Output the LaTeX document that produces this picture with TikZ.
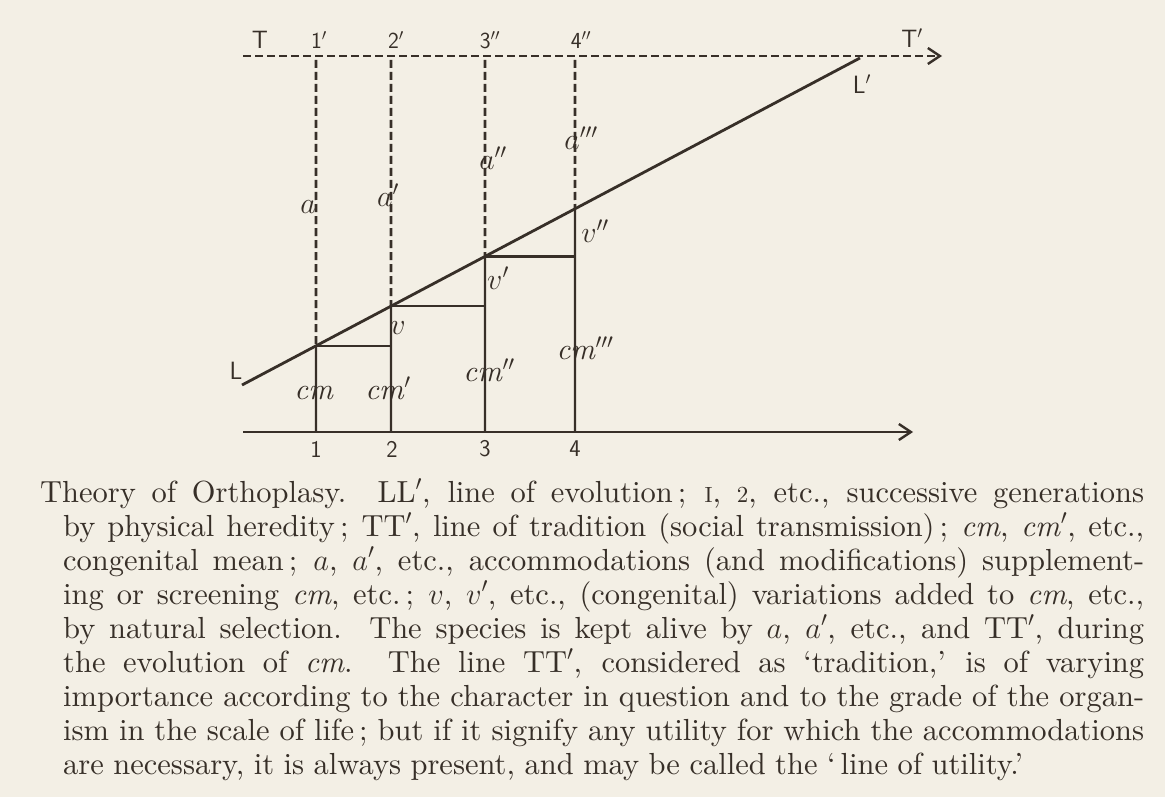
\RequirePackage{fix-cm}
\documentclass[tikz,border=0pt]{standalone}
\usepackage{fontspec}
\setmainfont{lmroman10}[Extension=.otf, UprightFont=*-regular, ItalicFont=*-italic, BoldFont=*-bold, BoldItalicFont=*-bolditalic]
\usetikzlibrary{arrows.meta}
\definecolor{paper}{RGB}{243,239,229}
\definecolor{ink}{RGB}{55,47,40}
\tikzset{
  dashln/.style={draw=ink, line width=2.6pt, dash pattern=on 8pt off 4pt},
  solidln/.style={draw=ink, line width=2.4pt},
  sflab/.style={text=ink, font=\sffamily\fontsize{25}{25}\selectfont, inner sep=0pt},
  toplab/.style={text=ink, font=\sffamily\fontsize{23}{23}\selectfont, inner sep=0pt},
  numlab/.style={text=ink, font=\sffamily\fontsize{24}{24}\selectfont, inner sep=0pt},
  itlab/.style={text=ink, font=\fontsize{30}{30}\selectfont, inner sep=0pt},
  capline/.style={anchor=base west, inner sep=0pt, text=ink, font=\fontsize{30.5}{34}\selectfont},
  barb/.style={-{Straight Barb[length=12pt,width=16pt,line width=2.4pt]}},
}
\begin{document}
\begin{tikzpicture}[x=1pt,y=-1pt]
\fill[paper] (0,0) rectangle (1165,797);
\useasboundingbox (0,0) rectangle (1165,797);
% key coordinates
\coordinate (tL) at (243,56);
\coordinate (tR) at (942,56);
\coordinate (bL) at (243,432);
\coordinate (bR) at (913,432);
\coordinate (Ls) at (242,385);
\coordinate (Le) at (860,58);
\foreach \i/\x in {1/316,2/391,3/485,4/575}{
  \coordinate (t\i) at (\x,60);
  \coordinate (b\i) at (\x,432);
}
\coordinate (p1) at (intersection of Ls--Le and t1--b1);
\coordinate (p2) at (intersection of Ls--Le and t2--b2);
\coordinate (p3) at (intersection of Ls--Le and t3--b3);
\coordinate (p4) at (intersection of Ls--Le and t4--b4);
% line of tradition
\draw[dashln, barb] (tL) -- (tR);
% base axis
\draw[solidln, line width=2.2pt, barb] (bL) -- (bR);
% verticals
\foreach \i in {1,2,3,4}{
  \draw[dashln] (t\i) -- (p\i);
  \draw[solidln] (p\i) -- (b\i);
}
% steps
\draw[solidln] (p1) -- (p1 -| b2);
\draw[solidln] (p2) -- (p2 -| b3);
\draw[solidln] (p3) -- (p3 -| b4);
% line of evolution
\draw[solidln, line width=2.8pt] (Ls) -- (Le);
% labels
\node[sflab] (lT) at (260,40) {T};
\node[sflab] (lTp) at (912,38) {T$'$};
\node[sflab] (lL) at (236,371) {L};
\node[sflab] (lLp) at (862,84) {L$'$};
\node[toplab] (l1p) at (319,40) {1$'$};
\node[toplab] (l2p) at (396,40) {2$'$};
\node[toplab] (l3p) at (490,40) {3$''$};
\node[toplab] (l4p) at (581,40) {4$''$};
\node[numlab] (n1) at (316,449) {1};
\node[numlab] (n2) at (392,449) {2};
\node[numlab] (n3) at (485,449) {3};
\node[numlab] (n4) at (575,449) {4};
\node[itlab] (la) at (308,207) {$a$};
\node[itlab] (la1) at (388,195) {$a'$};
\node[itlab] (la2) at (493,158) {$a''$};
\node[itlab] (la3) at (581,138) {$a'''$};
\node[itlab] (lv) at (398,328) {$v$};
\node[itlab] (lv1) at (498,278) {$v'$};
\node[itlab] (lv2) at (595,231) {$v''$};
\node[itlab] (lcm) at (314,393) {\textit{cm}};
\node[itlab] (lcm1) at (388,388) {\textit{cm}$'$};
\node[itlab] (lcm2) at (489,370) {\textit{cm}$''$};
\node[itlab] (lcm3) at (585,348) {\textit{cm}$'''$};
% caption
\node[capline] (c1) at (40,502) {\hbox to 1104pt{Theory of Orthoplasy.\ \ LL$'$, line of evolution\,; {\fontsize{22}{22}\selectfont I}, {\fontsize{23}{23}\selectfont 2}, etc., successive generations}};
\node[capline] (c2) at (63,536) {\hbox to 1081pt{by physical heredity\,; TT$'$, line of tradition (social transmission)\,; \textit{cm}, \textit{cm}$'$, etc.,}};
\node[capline] (c3) at (63,570) {\hbox to 1081pt{congenital mean\,; $a$, $a'$, etc., accommodations (and modifications) supplement-}};
\node[capline] (c4) at (63,604) {\hbox to 1081pt{ing or screening \textit{cm}, etc.\,; $v$, $v'$, etc., (congenital) variations added to \textit{cm}, etc.,}};
\node[capline] (c5) at (63,638) {\hbox to 1081pt{by natural selection.\ \ The species is kept alive by $a$, $a'$, etc., and TT$'$, during}};
\node[capline] (c6) at (63,672) {\hbox to 1081pt{the evolution of \textit{cm}.\ \ The line TT$'$, considered as `tradition,' is of varying}};
\node[capline] (c7) at (63,706) {\hbox to 1081pt{importance according to the character in question and to the grade of the organ-}};
\node[capline] (c8) at (63,740) {\hbox to 1081pt{ism in the scale of life\,; but if it signify any utility for which the accommodations}};
\node[capline] (c9) at (63,774) {\hbox to 960pt{are necessary, it is always present, and may be called the `\,line of utility.'}};
\end{tikzpicture}
\end{document}
